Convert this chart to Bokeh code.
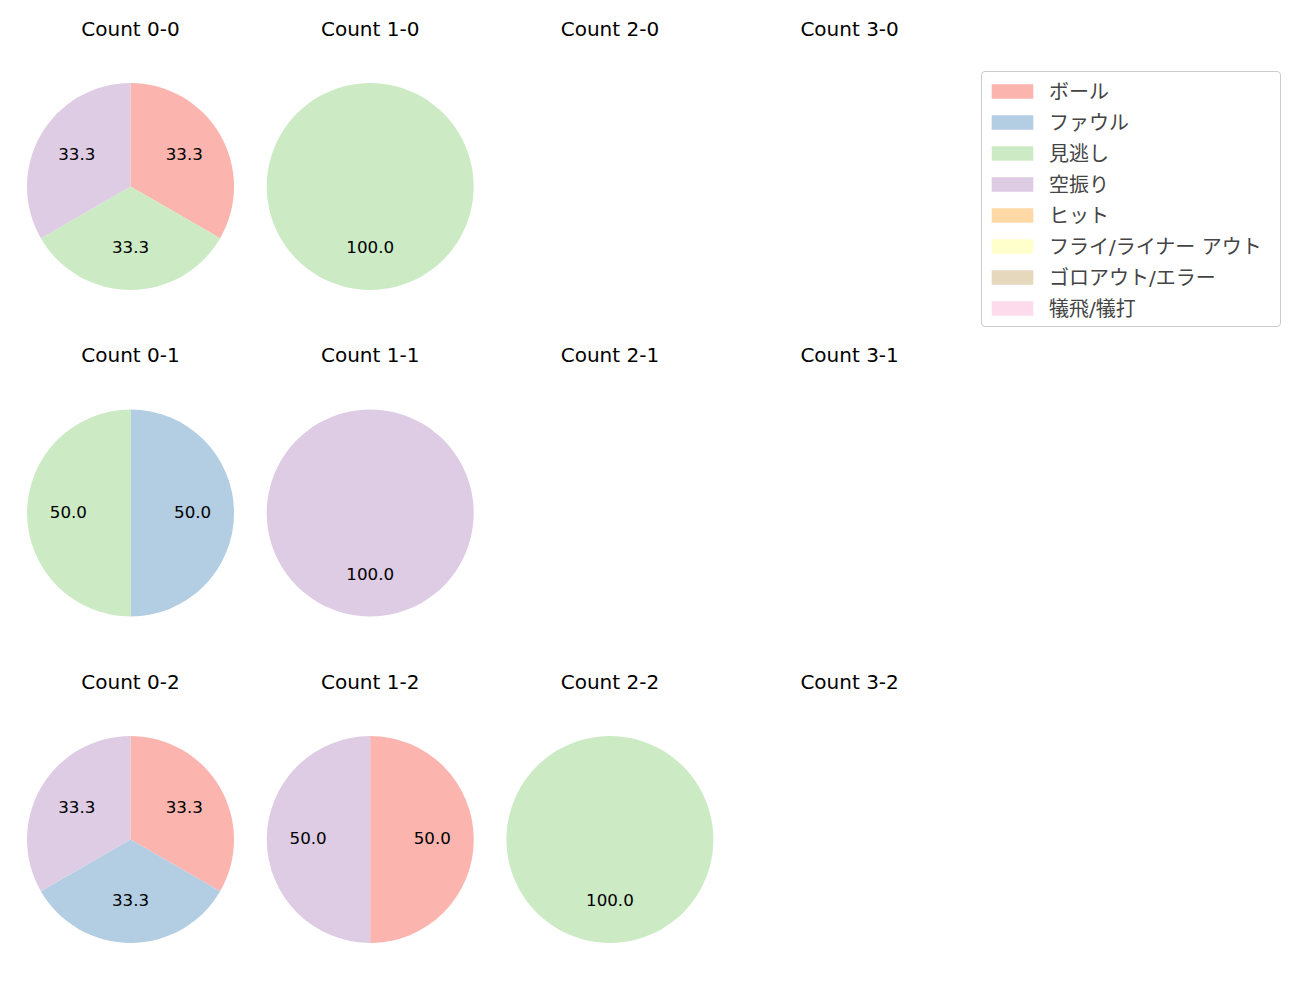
import math
from bokeh.plotting import figure
from bokeh.models import Range1d, ColumnDataSource, Legend, LegendItem
from bokeh.core.properties import value
from bokeh.embed import file_html
from bokeh.resources import INLINE

# ---- data ----
categories = ["ボール", "ファウル", "見逃し", "空振り", "ヒット",
              "フライ/ライナー アウト", "ゴロアウト/エラー", "犠飛/犠打"]
colors = ["#fbb4ae", "#b3cde3", "#ccebc5", "#decbe4", "#fed9a6",
          "#ffffcc", "#e5d8bd", "#fddaec"]

# counts per category, in category order
count_0_0 = [1, 0, 1, 1, 0, 0, 0, 0]
count_1_0 = [0, 0, 1, 0, 0, 0, 0, 0]
count_2_0 = [0, 0, 0, 0, 0, 0, 0, 0]
count_3_0 = [0, 0, 0, 0, 0, 0, 0, 0]
count_0_1 = [0, 1, 1, 0, 0, 0, 0, 0]
count_1_1 = [0, 0, 0, 1, 0, 0, 0, 0]
count_2_1 = [0, 0, 0, 0, 0, 0, 0, 0]
count_3_1 = [0, 0, 0, 0, 0, 0, 0, 0]
count_0_2 = [1, 1, 0, 1, 0, 0, 0, 0]
count_1_2 = [1, 0, 0, 1, 0, 0, 0, 0]
count_2_2 = [0, 0, 1, 0, 0, 0, 0, 0]
count_3_2 = [0, 0, 0, 0, 0, 0, 0, 0]

grid = [
    [("Count 0-0", count_0_0), ("Count 1-0", count_1_0), ("Count 2-0", count_2_0), ("Count 3-0", count_3_0)],
    [("Count 0-1", count_0_1), ("Count 1-1", count_1_1), ("Count 2-1", count_2_1), ("Count 3-1", count_3_1)],
    [("Count 0-2", count_0_2), ("Count 1-2", count_1_2), ("Count 2-2", count_2_2), ("Count 3-2", count_3_2)],
]

# ---- layout constants (pixels) ----
W, H = 1300, 1000
X0, DX = 130.0, 239.7
Y0, DY = 186.0, 326.5
R = 103.5
TITLE_OFF = 157.0
FONT = "DejaVu Sans, Noto Sans CJK JP"
EPS = 1e-4

p = figure(width=W, height=H, output_backend="svg", toolbar_location=None,
           x_range=Range1d(0, W), y_range=Range1d(0, H), min_border=0)
p.axis.visible = False
p.grid.visible = False
p.outline_line_color = None
p.background_fill_color = "white"
p.border_fill_color = "white"

wedge_data = {i: dict(x=[], y=[], s=[], e=[], r=[]) for i in range(len(categories))}
lab = dict(x=[], y=[], t=[])
tit = dict(x=[], y=[], t=[])
first_center = None

for r, row in enumerate(grid):
    for c, (name, vals) in enumerate(row):
        cx = X0 + DX * c
        cy_pix = Y0 + DY * r
        cy = H - cy_pix
        if first_center is None:
            first_center = (cx, cy)
        tit["x"].append(cx)
        tit["y"].append(H - (cy_pix - TITLE_OFF))
        tit["t"].append(name)
        total = sum(vals)
        if total == 0:
            continue
        cum = 0.0
        for i, v in enumerate(vals):
            if v == 0:
                continue
            a0 = math.pi / 2 - 2 * math.pi * cum / total
            cum += v
            a1 = math.pi / 2 - 2 * math.pi * cum / total
            if v == total:
                a1 += EPS
            wedge_data[i]["x"].append(cx)
            wedge_data[i]["y"].append(cy)
            wedge_data[i]["s"].append(a0)
            wedge_data[i]["e"].append(a1)
            wedge_data[i]["r"].append(R)
            mid = (a0 + a1) / 2
            lab["x"].append(cx + 0.6 * R * math.cos(mid))
            lab["y"].append(cy + 0.6 * R * math.sin(mid))
            lab["t"].append(f"{100.0 * v / total:.1f}")

# categories with no slices get a zero-radius proxy so the legend shows their colour
for i in range(len(categories)):
    if not wedge_data[i]["x"]:
        wedge_data[i]["x"].append(first_center[0])
        wedge_data[i]["y"].append(first_center[1])
        wedge_data[i]["s"].append(0.0)
        wedge_data[i]["e"].append(0.1)
        wedge_data[i]["r"].append(0.0)

items = []
for i, cat in enumerate(categories):
    src = ColumnDataSource(wedge_data[i])
    rr = p.wedge(x="x", y="y", radius="r", start_angle="s", end_angle="e",
                 direction="clock", source=src, fill_color=colors[i],
                 line_color=None)
    items.append(LegendItem(label=cat, renderers=[rr]))

p.text(x="x", y="y", text="t", source=ColumnDataSource(lab),
       text_align="center", text_baseline="middle", text_color="black",
       text_font=value(FONT), text_font_size="16.7px", y_offset=-1.5)
p.text(x="x", y="y", text="t", source=ColumnDataSource(tit),
       text_align="center", text_baseline="middle", text_color="black",
       text_font=value(FONT), text_font_size="20px", y_offset=-1)

legend = Legend(items=items, location=(981, H - 327),
                glyph_width=52, glyph_height=18, label_height=20,
                label_width=227,
                spacing=2, padding=4, label_standoff=11, margin=0,
                label_text_font=FONT, label_text_font_size="20px",
                border_line_color="#cccccc", border_line_alpha=1.0,
                border_radius=4, background_fill_alpha=1.0)
p.add_layout(legend, "center")

open("out.html", "w").write(file_html(p, INLINE))
